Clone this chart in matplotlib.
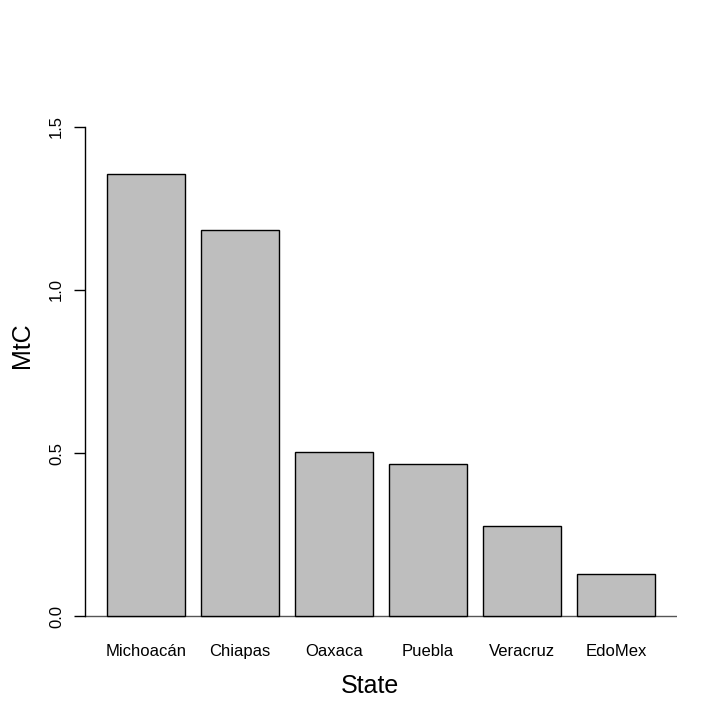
import matplotlib
matplotlib.use("Agg")
import matplotlib.pyplot as plt

plt.rcParams["font.family"] = ["Liberation Sans", "DejaVu Sans"]

states = ["Michoacán", "Chiapas", "Oaxaca", "Puebla", "Veracruz", "EdoMex"]
mtc = [1.356, 1.184, 0.502, 0.465, 0.277, 0.130]
yticks = [0.0, 0.5, 1.0, 1.5]
ytick_labels = ["0.0", "0.5", "1.0", "1.5"]

fig = plt.figure(figsize=(7.22, 7.22), dpi=100)
ax = fig.add_axes([85 / 722, 1 - 635.6 / 722, 592 / 722, 528.2 / 722])

# R barplot layout: width 1, space 0.2
xs = [0.2 + 1.2 * i + 0.5 for i in range(len(states))]
ax.bar(xs, mtc, width=1.0, color="#BEBEBE", edgecolor="black", linewidth=1.0, zorder=2)
ax.axhline(0, color="#555555", linewidth=1.0, zorder=1)

ax.set_xlim(-0.08, 7.48)
ax.set_ylim(-0.06, 1.56)

for s in ["top", "right", "bottom"]:
    ax.spines[s].set_visible(False)
ax.spines["left"].set_bounds(0, 1.5)
ax.spines["left"].set_linewidth(1.0)

ax.set_yticks(yticks)
ax.set_yticklabels(ytick_labels, rotation=90, va="center", fontsize=12)
ax.tick_params(axis="y", length=8, width=1.0, pad=7)

ax.set_xticks(xs)
ax.set_xticklabels(states, fontsize=12)
ax.tick_params(axis="x", length=0, pad=6)

fig.text(370 / 722, 1 - 686 / 722, "State", ha="center", va="center", fontsize=18)
fig.text(22 / 722, 1 - 345 / 722, "MtC", ha="center", va="center", rotation=90, fontsize=18)

fig.savefig("out.png", dpi=100)
